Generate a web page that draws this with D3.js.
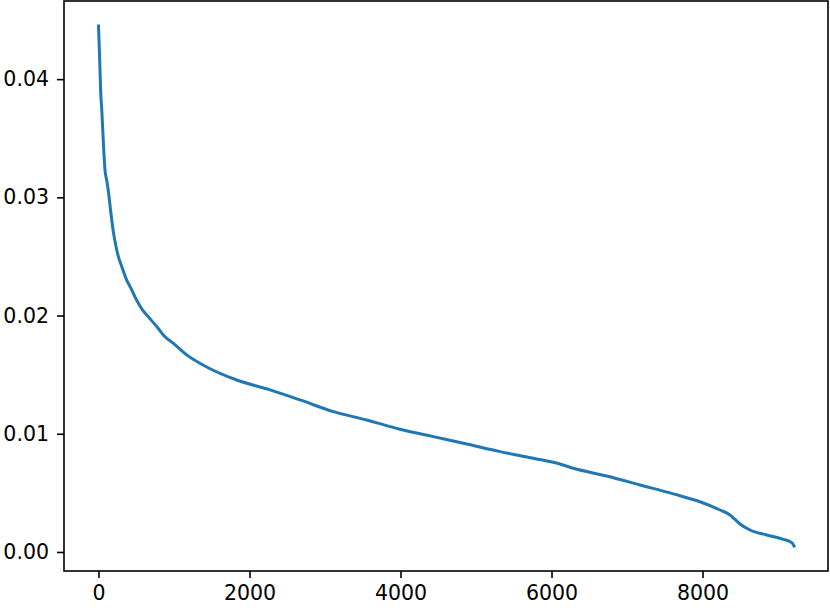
<!DOCTYPE html>
<html>
<head>
<meta charset="utf-8">
<script src="https://cdn.jsdelivr.net/npm/d3@7"></script>
<style>
  html, body { margin: 0; padding: 0; background: #fff; }
  svg { display: block; font-family: "DejaVu Sans", sans-serif; }
</style>
</head>
<body>
<svg id="chart" width="830" height="608"></svg>
<script>
// Sorted values (rank vs value)
const rankX = [0, 14, 29, 45, 60, 86, 110, 135, 160, 196, 230, 262, 300, 373, 430, 506, 580, 660, 792,
  858, 1000, 1168, 1433, 1830, 2272, 2669, 3110, 3552, 3993, 4434, 4877, 5318, 5759, 6113, 6289, 6731,
  7172, 7613, 7967, 8232, 8364, 8430, 8497, 8629, 8850, 9070, 9181, 9203, 9212];
const valueY = [0.0445, 0.0420, 0.0389, 0.0372, 0.0352, 0.0323, 0.0314, 0.0303, 0.0289, 0.0271, 0.0259,
  0.0250, 0.0243, 0.0230, 0.0223, 0.0213, 0.0205, 0.0199, 0.0189, 0.01836, 0.0176, 0.01667, 0.01565,
  0.01455, 0.01371, 0.01286, 0.01187, 0.01117, 0.01038, 0.00976, 0.00914, 0.00849, 0.00793, 0.00744,
  0.00708, 0.00643, 0.00567, 0.00491, 0.00425, 0.00355, 0.00313, 0.00275, 0.00237, 0.00186, 0.00144,
  0.00107, 0.00079, 0.00062, 0.00050];
const xTicks = [0, 2000, 4000, 6000, 8000];
const yTicks = [0.00, 0.01, 0.02, 0.03, 0.04];

const data = rankX.map((x, i) => ({ x, y: valueY[i] }));

const svg = d3.select("#chart");
const L = 64, R = 828, T = 1, B = 571;

const x = d3.scaleLinear().domain([-457, 9662]).range([L, R]);
const y = d3.scaleLinear().domain([-0.00161, 0.04661]).range([B, T]);

// Line
svg.append("path")
  .datum(data)
  .attr("fill", "none")
  .attr("stroke", "#1f77b4")
  .attr("stroke-width", 3)
  .attr("stroke-linejoin", "round")
  .attr("stroke-linecap", "square")
  .attr("d", d3.line().x(d => x(d.x)).y(d => y(d.y)).curve(d3.curveMonotoneX));

// Axes
const xAxis = d3.axisBottom(x).tickValues(xTicks).tickFormat(d3.format("d"))
  .tickSize(7).tickPadding(7).tickSizeOuter(0);
const yAxis = d3.axisLeft(y).tickValues(yTicks).tickFormat(d3.format(".2f"))
  .tickSize(7).tickPadding(8).tickSizeOuter(0);

const gx = svg.append("g").attr("transform", `translate(0,${B})`).call(xAxis);
const gy = svg.append("g").attr("transform", `translate(${L},0)`).call(yAxis);
[gx, gy].forEach(g => {
  g.select(".domain").remove();
  g.selectAll(".tick line").attr("stroke", "#000").attr("stroke-width", 1.6);
  g.selectAll(".tick text").attr("fill", "#000").style("font-size", "20.5px")
    .style("font-family", "'DejaVu Sans', sans-serif");
});

// Frame (spines)
svg.append("rect")
  .attr("x", L).attr("y", T).attr("width", R - L).attr("height", B - T)
  .attr("fill", "none").attr("stroke", "#000").attr("stroke-width", 1.6);
</script>
</body>
</html>
